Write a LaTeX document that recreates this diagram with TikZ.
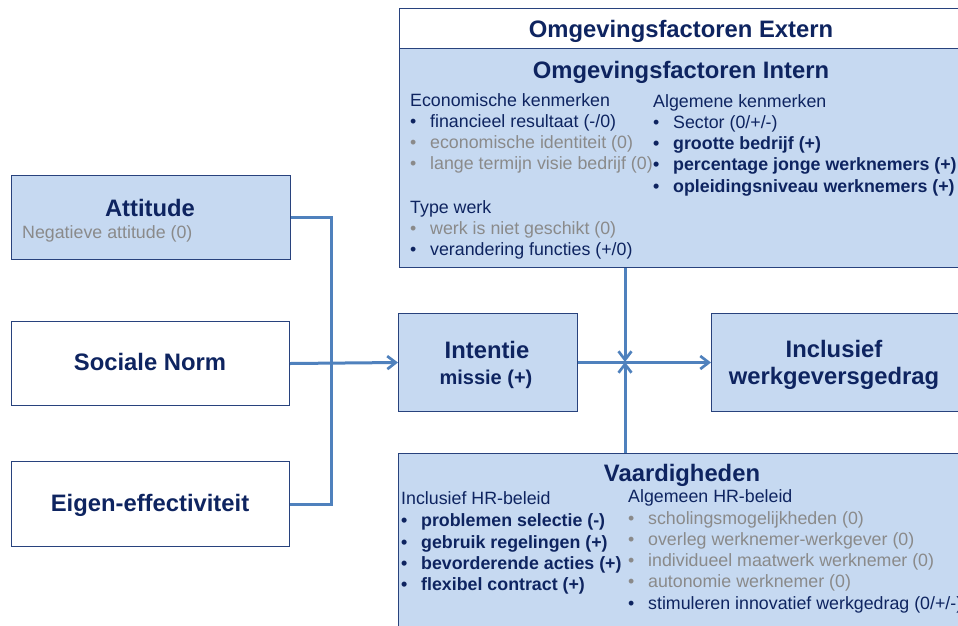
\documentclass[tikz,border=0pt]{standalone}
\usepackage{fontspec}
\setmainfont{Liberation Sans}
\usetikzlibrary{arrows.meta}
\definecolor{nv}{RGB}{14,36,96}
\definecolor{gr}{RGB}{138,138,138}
\definecolor{bfill}{RGB}{198,217,241}
\definecolor{bdraw}{RGB}{40,66,125}
\definecolor{ln}{RGB}{79,129,189}
\newcommand\mybul{\makebox[20pt][l]{\textbullet}}
\tikzset{
  box/.style={draw=bdraw, line width=1pt, inner sep=0, anchor=north west},
  bluebox/.style={box, fill=bfill},
  whitebox/.style={box, fill=white},
  ttl/.style={inner sep=0, anchor=base, text=nv, font=\fontsize{23.8}{28}\selectfont\bfseries},
  sub/.style={inner sep=0, anchor=base, text=nv, font=\fontsize{20}{24}\selectfont\bfseries},
  txt/.style={inner sep=0, anchor=base west, text=nv, font=\fontsize{17.8}{21}\selectfont},
  gtxt/.style={txt, text=gr},
  btxt/.style={txt, font=\fontsize{17.8}{21}\selectfont\bfseries},
  conn/.style={draw=ln, line width=3pt},
  arr/.style={conn, -{Straight Barb[length=8.5pt,width=13pt,line width=2.7pt]}}
}
\begin{document}
\begin{tikzpicture}[x=1pt,y=-1pt]
\useasboundingbox (0,0) rectangle (958,625);
\clip (0,0) rectangle (958,625);
% boxes
\node[whitebox, minimum width=563pt, minimum height=40pt] (ext) at (399,8) {};
\node[bluebox, minimum width=563pt, minimum height=219pt] (intern) at (399,48) {};
\node[bluebox, minimum width=279pt, minimum height=84pt] (att) at (11,175) {};
\node[whitebox, minimum width=278pt, minimum height=84pt] (soc) at (11,321) {};
\node[whitebox, minimum width=278pt, minimum height=85pt] (eig) at (11,461) {};
\node[bluebox, minimum width=179pt, minimum height=98pt] (intentie) at (398,313) {};
\node[bluebox, minimum width=251pt, minimum height=98pt] (incl) at (711,313) {};
\node[bluebox, minimum width=564pt, minimum height=180pt] (vaard) at (398,453) {};
% titles
\node[ttl] (textern) at (681,37) {Omgevingsfactoren Extern};
\node[ttl] (tintern) at (681,78) {Omgevingsfactoren Intern};
\node[ttl] (tatt) at (150,216) {Attitude};
\node[gtxt] (tneg) at (22,238) {Negatieve attitude (0)};
\node[ttl] (tsoc) at (150,370) {Sociale Norm};
\node[ttl] (teig) at (150,511) {Eigen-effectiviteit};
\node[ttl] (tint) at (487,358) {Intentie};
\node[sub] (tmis) at (486,384) {missie (+)};
\node[ttl] (tinc1) at (834,357) {Inclusief};
\node[ttl] (tinc2) at (834,384) {werkgeversgedrag};
\node[ttl] (tvaar) at (682,481) {Vaardigheden};
% intern left column
\node[txt] (e0) at (410,106) {Economische kenmerken};
\node[txt] (e1) at (410,127) {\mybul financieel resultaat (-/0)};
\node[gtxt] (e2) at (410,148) {\mybul economische identiteit (0)};
\node[gtxt] (e3) at (410,169) {\mybul lange termijn visie bedrijf (0)};
\node[txt] (w0) at (410,213) {Type werk};
\node[gtxt] (w1) at (410,234) {\mybul werk is niet geschikt (0)};
\node[txt] (w2) at (410,255) {\mybul verandering functies (+/0)};
% intern right column
\node[txt] (a0) at (653,107) {Algemene kenmerken};
\node[txt] (a1) at (653,128) {\mybul Sector (0/+/-)};
\node[btxt] (a2) at (653,149) {\mybul grootte bedrijf (+)};
\node[btxt] (a3) at (653,170) {\mybul percentage jonge werknemers (+)};
\node[btxt] (a4) at (653,192) {\mybul opleidingsniveau werknemers (+)};
% vaardigheden left
\node[txt] (v0) at (401,504) {Inclusief HR-beleid};
\node[btxt] (v1) at (401,526) {\mybul problemen selectie (-)};
\node[btxt] (v2) at (401,548) {\mybul gebruik regelingen (+)};
\node[btxt] (v3) at (401,569) {\mybul bevorderende acties (+)};
\node[btxt] (v4) at (401,590) {\mybul flexibel contract (+)};
% vaardigheden right
\node[txt] (h0) at (628,502) {Algemeen HR-beleid};
\node[gtxt] (h1) at (628,524) {\mybul scholingsmogelijkheden (0)};
\node[gtxt] (h2) at (628,545) {\mybul overleg werknemer-werkgever (0)};
\node[gtxt] (h3) at (628,566) {\mybul individueel maatwerk werknemer (0)};
\node[gtxt] (h4) at (628,587) {\mybul autonomie werknemer (0)};
\node[txt] (h5) at (628,609) {\mybul stimuleren innovatief werkgedrag (0/+/-)};
% connectors
\coordinate (bus) at (331,362);
\coordinate (cross) at (625,362);
\draw[conn] (att.east) -| (bus) |- (eig.east);
\draw[arr] (soc.east) -- (intentie.west);
\draw[arr] (intentie.east) -- (incl.west);
\draw[arr] (intern.south -| cross) -- (cross);
\draw[arr] (vaard.north -| cross) -- (cross);
\end{tikzpicture}
\end{document}
